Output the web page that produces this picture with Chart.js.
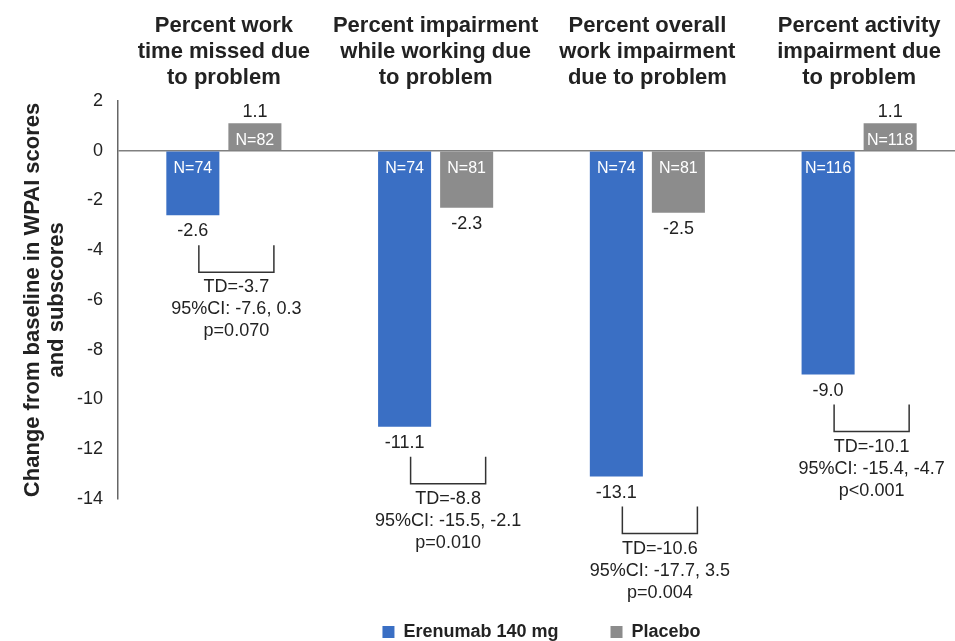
<!DOCTYPE html>
<html>
<head>
<meta charset="utf-8">
<script src="https://cdn.jsdelivr.net/npm/chart.js@4"></script>
<style>
  html, body { margin: 0; padding: 0; background: #fff; overflow: hidden; }
  #wrap { width: 965px; height: 651px; }
</style>
</head>
<body>
<div id="wrap"><canvas id="wpai"></canvas></div>
<script>
/* WPAI change from baseline */

const categories = [
  ['Percent work', 'time missed due', 'to problem'],
  ['Percent impairment', 'while working due', 'to problem'],
  ['Percent overall', 'work impairment', 'due to problem'],
  ['Percent activity', 'impairment due', 'to problem']
];
const erenumab = [-2.6, -11.1, -13.1, -9.0];
const placebo = [1.1, -2.3, -2.5, 1.1];
const nErenumab = [74, 74, 74, 116];
const nPlacebo = [82, 81, 81, 118];
const tdLabels = ['TD=-3.7', 'TD=-8.8', 'TD=-10.6', 'TD=-10.1'];
const ciLabels = ['95%CI: -7.6, 0.3', '95%CI: -15.5, -2.1', '95%CI: -17.7, 3.5', '95%CI: -15.4, -4.7'];
const pLabels = ['p=0.070', 'p=0.010', 'p=0.004', 'p<0.001'];
const yTicks = [2, 0, -2, -4, -6, -8, -10, -12, -14];

const FONT = "'Liberation Sans', Arial, sans-serif";

// value labels, N labels and the TD brackets
const annotations = {
  id: 'annotations',
  afterDatasetsDraw(chart) {
    const ctx = chart.ctx;
    const nLists = [nErenumab, nPlacebo];
    ctx.save();
    chart.data.datasets.forEach((ds, di) => {
      const meta = chart.getDatasetMeta(di);
      meta.data.forEach((bar, i) => {
        const v = ds.data[i];
        ctx.textAlign = 'center';
        ctx.textBaseline = 'middle';
        ctx.fillStyle = '#222';
        ctx.font = '18px ' + FONT;
        if (v < 0) {
          ctx.fillText(v.toFixed(1), bar.x, bar.y + 16);
        } else {
          ctx.fillText(v.toFixed(1), bar.x, bar.y - 11);
        }
        ctx.fillStyle = '#fff';
        ctx.font = '16px ' + FONT;
        const nTxt = 'N=' + nLists[di][i];
        if (v < 0) {
          ctx.fillText(nTxt, bar.x, bar.base + 17);
        } else {
          ctx.fillText(nTxt, bar.x, bar.base - 9);
        }
      });
    });

    const m0 = chart.getDatasetMeta(0);
    const m1 = chart.getDatasetMeta(1);
    m0.data.forEach((bar, i) => {
      const left = bar.x + 6;
      const right = m1.data[i].x + 19;
      const top = bar.y + 30;
      const bottom = bar.y + 57;
      ctx.strokeStyle = '#333';
      ctx.lineWidth = 1.5;
      ctx.beginPath();
      ctx.moveTo(left, top);
      ctx.lineTo(left, bottom);
      ctx.lineTo(right, bottom);
      ctx.lineTo(right, top);
      ctx.stroke();
      const cx = (left + right) / 2;
      ctx.fillStyle = '#222';
      ctx.font = '18px ' + FONT;
      ctx.textAlign = 'center';
      ctx.textBaseline = 'middle';
      ctx.fillText(tdLabels[i], cx, bar.y + 72);
      ctx.fillText(ciLabels[i], cx, bar.y + 94);
      ctx.fillText(pLabels[i], cx, bar.y + 116);
    });
    ctx.restore();
  }
};

const datawpai = {
  labels: categories,
  datasets: [{
    label: 'Erenumab 140 mg',
    data: erenumab,
    backgroundColor: '#3a6fc4',
    borderWidth: 0
  }, {
    label: 'Placebo',
    data: placebo,
    backgroundColor: '#8c8c8c',
    borderWidth: 0
  }]
};

const configwpai = {
  type: 'bar',
  data: datawpai,
  plugins: [annotations],
  options: {
    responsive: true,
    maintainAspectRatio: false,
    animation: false,
    events: [],
    layout: { padding: { top: 11, left: 0, right: 0, bottom: 0 } },
    datasets: {
      bar: { categoryPercentage: 0.586, barPercentage: 0.855 }
    },
    scales: {
      x: {
        position: 'top',
        grid: { display: false },
        border: { display: false },
        ticks: {
          color: '#222',
          padding: 2,
          maxRotation: 0,
          autoSkip: false,
          font: { family: FONT, size: 22, weight: 'bold', lineHeight: 1.18 }
        }
      },
      y: {
        min: -14,
        max: 2,
        afterBuildTicks(scale) {
          scale.ticks = yTicks.map(v => ({ value: v }));
        },
        afterFit(scale) {
          scale.width = 118;
        },
        grid: {
          drawTicks: false,
          color: ctx => (ctx.tick && ctx.tick.value === 0 ? '#808080' : 'rgba(0,0,0,0)'),
          lineWidth: 1.5
        },
        border: { display: true, color: '#666', width: 1.5 },
        ticks: {
          color: '#222',
          padding: 15,
          font: { family: FONT, size: 18 }
        },
        title: {
          display: true,
          text: ['Change from baseline in WPAI scores', 'and subscores'],
          color: '#222',
          padding: { top: 21, bottom: 0 },
          font: { family: FONT, size: 22, weight: 'bold', lineHeight: 1.1 }
        }
      }
    },
    plugins: {
      tooltip: { enabled: false },
      legend: {
        position: 'bottom',
        fullSize: false,
        labels: {
          color: '#222',
          boxWidth: 12,
          boxHeight: 12,
          padding: 52,
          font: { family: FONT, size: 18, weight: 'bold' }
        },
        title: {
          display: true,
          text: ' ',
          padding: { top: 60, bottom: 0 },
          font: { size: 10 }
        }
      }
    }
  }
};

const chartwpai = new Chart(
  document.getElementById('wpai'),
  configwpai
);
</script>
</body>
</html>
